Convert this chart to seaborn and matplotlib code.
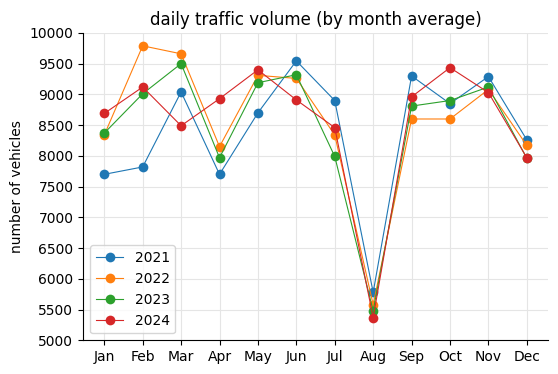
import numpy as np
import pandas as pd
import matplotlib
matplotlib.use('Agg')
import matplotlib.pyplot as plt
import seaborn as sns

# средние значения по месяцам
months = ['Jan', 'Feb', 'Mar', 'Apr', 'May', 'Jun', 'Jul', 'Aug', 'Sep', 'Oct', 'Nov', 'Dec']
v2021 = [7700, 7820, 9040, 7700, 8700, 9545, 8900, 5780, 9300, 8850, 9290, 8260]
v2022 = [8340, 9790, 9660, 8150, 9310, 9260, 8340, 5580, 8600, 8600, 9080, 8170]
v2023 = [8370, 9010, 9500, 7970, 9190, 9320, 7990, 5480, 8810, 8900, 9120, 7960]
v2024 = [8690, 9120, 8490, 8930, 9400, 8910, 8460, 5370, 8960, 9435, 9030, 7970]
years = ['2021', '2022', '2023', '2024']

df = pd.DataFrame({'month': months * 4,
                   'value': v2021 + v2022 + v2023 + v2024,
                   'year': [y for y in years for _ in months]})

fig, ax = plt.subplots(figsize=(5.58, 3.74), dpi=100)
sns.lineplot(data=df, x='month', y='value', hue='year', marker='o', markersize=7,
             markeredgewidth=0, linewidth=0.8, palette='tab10', sort=False, ax=ax)
ax.set_xlim(-0.55, 11.55)
ax.set_ylim(5000, 10000)
ax.set_yticks(np.arange(5000, 10001, 500))
ax.grid(color='#e5e5e5', linewidth=0.8)
ax.set_axisbelow(True)
ax.set_title('daily traffic volume (by month average)')
ax.set_xlabel('')
ax.set_ylabel('number of vehicles')
ax.legend(loc='lower left')
sns.despine()
plt.subplots_adjust(left=0.149, right=0.982, top=0.912, bottom=0.09)
plt.savefig('out.png')
